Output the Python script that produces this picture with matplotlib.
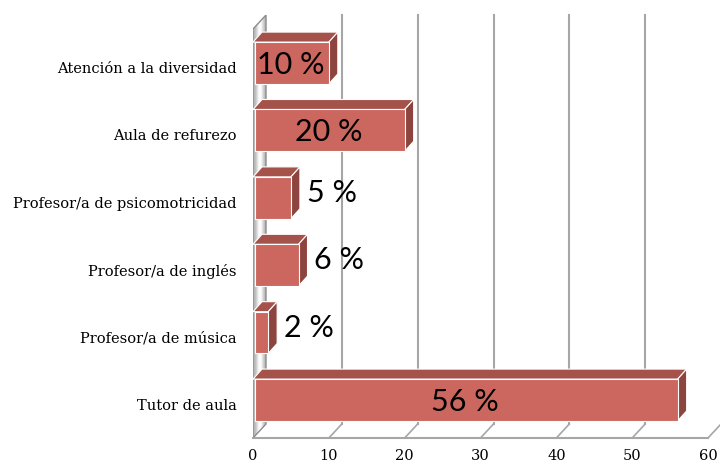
import matplotlib.pyplot as plt
import numpy as np
from matplotlib.patches import Polygon

# bottom to top, as drawn
categories = ["Tutor de aula", "Profesor/a de música", "Profesor/a de inglés",
              "Profesor/a de psicomotricidad", "Aula de refurezo", "Atención a la diversidad"]
values = [56, 2, 6, 5, 20, 10]
value_labels = ["56 %", "2 %", "6 %", "5 %", "20 %", "10 %"]
label_inside = [True, False, False, False, True, True]
xticks = [0, 10, 20, 30, 40, 50, 60]

W, H = 720, 466
fig = plt.figure(figsize=(W / 100, H / 100), dpi=100)
ax = fig.add_axes([253 / W, (H - 438) / H, 455 / W, 423 / H])
ymin, ymax = -0.564, 5.712
ax.set_xlim(0, 60)
ax.set_ylim(ymin, ymax)
ax.axis('off')

px_x = 455 / 60.0   # pixels per x unit
px_y = 67.4         # pixels per category
ox = lambda p: p / px_x
oy = lambda p: p / px_y

dxw, dyw = ox(13), oy(14)   # wall / floor depth
dxb, dyb = ox(9), oy(10)    # bar depth
hb = 0.31                   # half bar height

grid_c = '#a6a6a6'

# left wall, grey/white diagonal sheen
wall = Polygon([(0, ymin), (dxw, ymin + dyw), (dxw, ymax), (0, ymax - dyw)],
               closed=True, facecolor='none', edgecolor='#8c8c8c', lw=1.0, zorder=2)
ax.add_patch(wall)
gx, gy = np.meshgrid(np.linspace(0, 1, 40), np.linspace(0, 1, 400))
grad = 0.72 + 0.28 * np.sin(np.pi * np.clip(gx * 1.2 - 0.1, 0, 1)) ** 2
im = ax.imshow(grad, cmap='gray', vmin=0, vmax=1, aspect='auto',
               extent=[0, dxw, ymin, ymax], zorder=1)
im.set_clip_path(wall)

# floor and gridlines
ax.plot([0, 60], [ymin, ymin], color=grid_c, lw=1.5, clip_on=False, zorder=2)
for k in xticks[1:]:
    ax.plot([k, k + dxw], [ymin, ymin + dyw], color=grid_c, lw=1.2, clip_on=False, zorder=1)
    if k < 60:
        ax.plot([k + dxw] * 2, [ymin + dyw, ymax], color=grid_c, lw=1.5, clip_on=False, zorder=1)

# 3d bars
front_c, top_c, side_c = '#cb675e', '#a4524a', '#8d443e'
for i, v in enumerate(values):
    y0, y1 = i - hb, i + hb
    top = Polygon([(0, y1), (dxb, y1 + dyb), (v + dxb, y1 + dyb), (v, y1)],
                  facecolor=top_c, edgecolor='white', lw=0.8, zorder=3)
    side = Polygon([(v, y0), (v + dxb, y0 + dyb), (v + dxb, y1 + dyb), (v, y1)],
                   facecolor=side_c, edgecolor='white', lw=0.8, zorder=3)
    front = Polygon([(0.2, y0), (v, y0), (v, y1), (0.2, y1)],
                    facecolor=front_c, edgecolor='white', lw=0.8, zorder=4)
    for p in (top, side, front):
        p.set_clip_on(False)
        ax.add_patch(p)

    if label_inside[i]:
        ax.text(v / 2, i - oy(2), value_labels[i], ha='center', va='center',
                fontsize=22, family='Lato', color='black', zorder=5)
    else:
        ax.text(v + dxb + ox(7), i + oy(5), value_labels[i], ha='left', va='center',
                fontsize=22, family='Lato', color='black', zorder=5)

    ax.text(-ox(16), i - oy(6), categories[i], ha='right', va='center',
            fontsize=10.5, family='DejaVu Serif', clip_on=False)

for k in xticks:
    ax.text(k, ymin - oy(18), str(k), ha='center', va='center',
            fontsize=10.5, family='DejaVu Serif', clip_on=False)

fig.savefig('out.png', dpi=100)
